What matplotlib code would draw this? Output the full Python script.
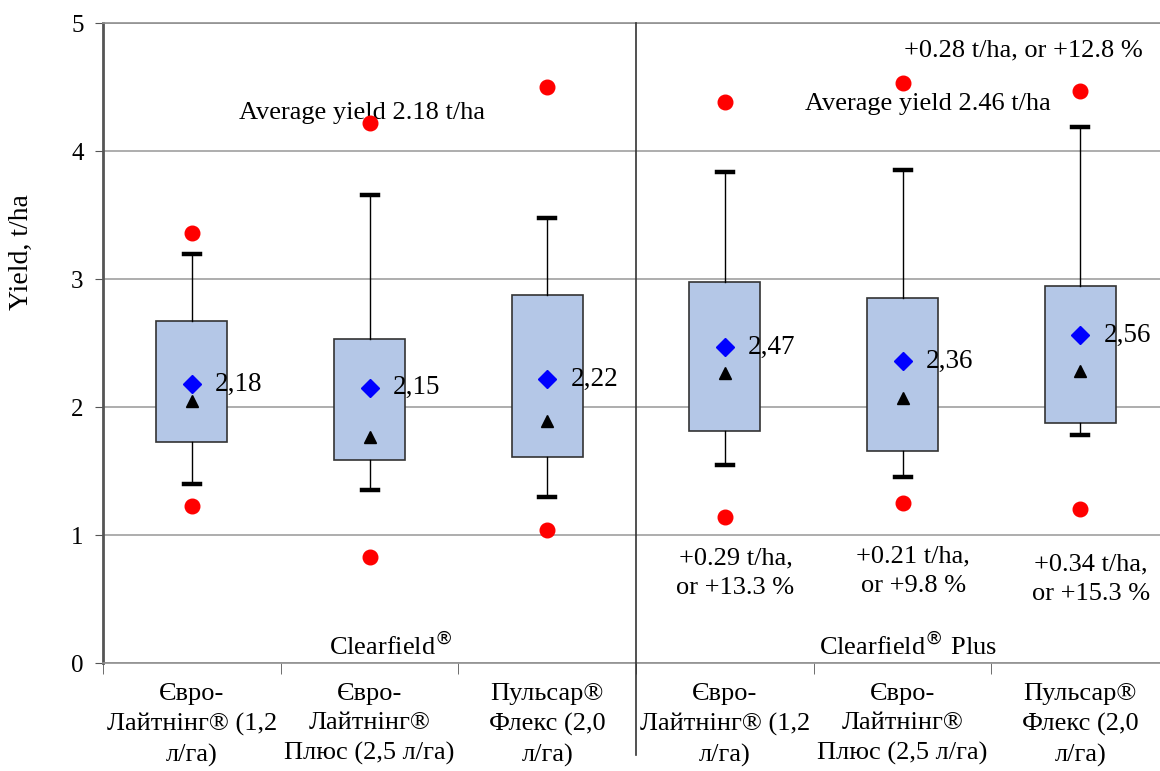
import matplotlib.pyplot as plt
import numpy as np

plt.rcParams['font.family'] = ['Liberation Serif', 'DejaVu Serif']

labels = ["Євро-\nЛайтнінг® (1,2\nл/га)", "Євро-\nЛайтнінг®\nПлюс (2,5 л/га)", "Пульсар®\nФлекс (2,0\nл/га)"] * 2
y_max = [3.36, 4.22, 4.50, 4.38, 4.53, 4.47]
whis_hi = [3.20, 3.66, 3.48, 3.84, 3.85, 4.19]
q3 = [2.67, 2.53, 2.875, 2.98, 2.85, 2.95]
means = [2.18, 2.15, 2.22, 2.47, 2.36, 2.56]
medians = [2.05, 1.77, 1.89, 2.27, 2.07, 2.28]
q1 = [1.73, 1.59, 1.61, 1.81, 1.66, 1.875]
whis_lo = [1.40, 1.35, 1.30, 1.55, 1.45, 1.78]
y_min = [1.23, 0.83, 1.04, 1.14, 1.25, 1.20]
mean_labels = ["2,18", "2,15", "2,22", "2,47", "2,36", "2,56"]
gain_labels = ["+0.29 t/ha,\nor +13.3 %", "+0.21 t/ha,\nor +9.8 %", "+0.34 t/ha,\nor +15.3 %"]
gain_y = [0.70, 0.72, 0.656]

x = np.arange(1, 7)

fig = plt.figure(figsize=(11.6, 7.71), dpi=100)
ax = fig.add_axes([0.0888, 0.140, 0.919, 0.830])

stats = []
for i in range(6):
    stats.append(dict(med=medians[i], q1=q1[i], q3=q3[i], whislo=whis_lo[i],
                      whishi=whis_hi[i], mean=means[i], fliers=[]))

ax.bxp(stats, positions=x, widths=0.4, patch_artist=True, showmeans=True,
       capwidths=0.09,
       boxprops=dict(facecolor='#b4c7e7', edgecolor='#333333', linewidth=1.2),
       whiskerprops=dict(color='black', linewidth=1),
       capprops=dict(color='black', linewidth=3.2),
       medianprops=dict(linewidth=0),
       meanprops=dict(marker='D', markerfacecolor='#0000ff', markeredgecolor='#0000ff', markersize=9))

ax.plot(x, medians, linestyle='none', marker='^', color='black', markersize=9, zorder=4)
ax.plot(x, y_max, linestyle='none', marker='o', color='#ff0000', markersize=10.5, zorder=4)
ax.plot(x, y_min, linestyle='none', marker='o', color='#ff0000', markersize=10.5, zorder=4)

for i in range(6):
    ax.text(x[i] + 0.13, means[i], mean_labels[i], fontsize=19.5, va='center', ha='left')

ax.text(1.96, 4.30, "Average yield 2.18 t/ha", fontsize=19, ha='center', va='center')
ax.text(5.14, 4.37, "Average yield 2.46 t/ha", fontsize=19, ha='center', va='center')
ax.text(5.68, 4.79, "+0.28 t/ha, or +12.8 %", fontsize=19, ha='center', va='center')
ax.text(2.12, 0.13, "Clearfield$^{®}$", fontsize=19, ha='center', va='center')
ax.text(5.03, 0.13, "Clearfield$^{®}$ Plus", fontsize=19, ha='center', va='center')
for i, g in enumerate(gain_labels):
    ax.text(x[i + 3] + 0.06, gain_y[i], g, fontsize=19, ha='center', va='center', linespacing=1.45)

ax.plot([3.5, 3.5], [-0.72, 5], color='#333333', linewidth=1.2, clip_on=False, zorder=5)

ax.set_xlim(0.5, 6.5)
ax.set_ylim(0, 5)
ax.set_yticks(range(6))
ax.yaxis.grid(True, color='#a0a0a0', linewidth=1.2)
ax.set_axisbelow(True)
ax.set_xticks(x)
ax.set_xticklabels(labels, fontsize=19, linespacing=1.45)
ax.set_xticks(np.arange(0.5, 7, 1), minor=True)
ax.tick_params(axis='x', which='major', length=0, pad=14)
ax.tick_params(axis='x', which='minor', length=8, color='#555555')
ax.tick_params(axis='y', labelsize=18, length=6, color='#555555', pad=8)
ax.set_ylabel("Yield, t/ha", fontsize=20)
ax.yaxis.set_label_coords(-0.065, 0.642)

for s in ['top', 'right', 'bottom']:
    ax.spines[s].set_color('#909090')
    ax.spines[s].set_linewidth(1.2)
ax.spines['left'].set_color('#555555')
ax.spines['left'].set_linewidth(2)

fig.savefig("out.png", dpi=100)
